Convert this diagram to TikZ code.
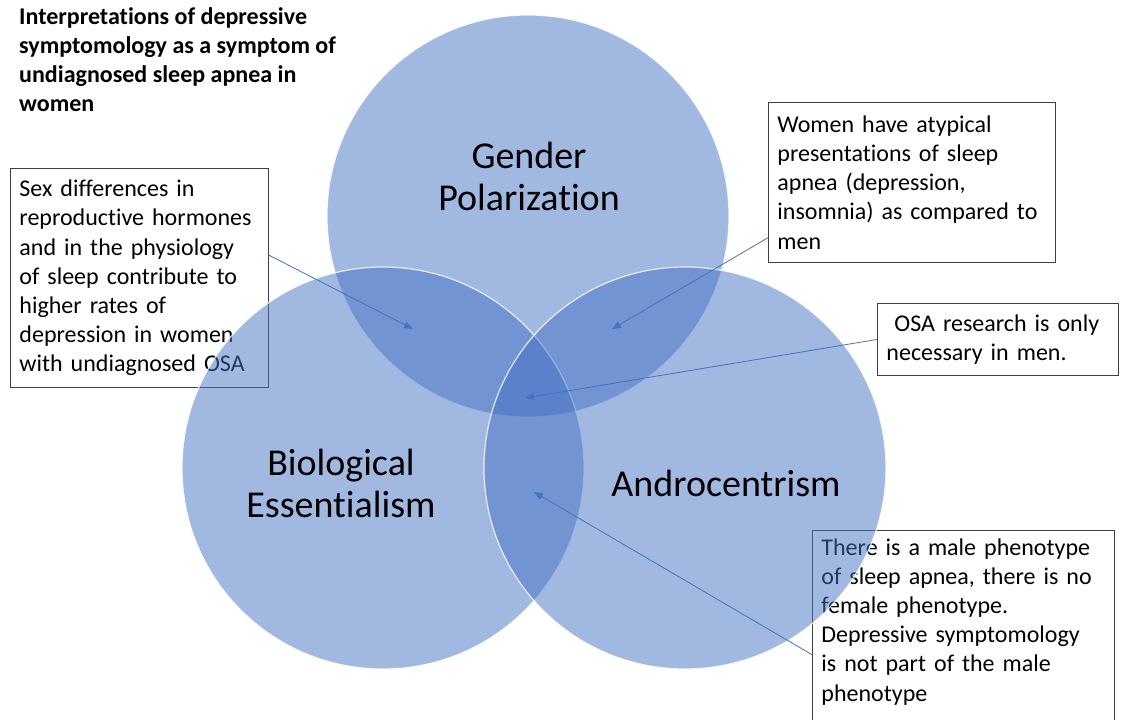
\documentclass[tikz,border=0pt]{standalone}
\usepackage{fontspec}
\setmainfont{Carlito}[RawFeature=-liga]
\usetikzlibrary{arrows.meta}
\definecolor{venn}{HTML}{4472C4}
\definecolor{boxline}{HTML}{404040}
\newcommand{\boxfont}{\fontsize{24}{29.2}\selectfont}
\newcommand{\setfont}{\fontsize{38}{42}\selectfont}
\newcommand{\ttlfont}{\bfseries\fontsize{24}{29}\selectfont}
\begin{document}
\begin{tikzpicture}[x=1pt,y=-1pt,
  every node/.style={inner sep=0pt},
  txtbox/.style={draw=boxline, line width=0.9pt, fill=white, align=left,
    inner xsep=9pt, inner ysep=8pt, font=\boxfont},
  vset/.style={circle, minimum size=402pt, fill=venn, fill opacity=0.5,
    draw=white, draw opacity=0.8, line width=1.2pt},
  setname/.style={align=center, font=\setfont},
  ptr/.style={-{Triangle[length=9pt,width=7pt]}, venn, line width=0.8pt}]
\fill [white] (0,0) rectangle (1122,720);
\useasboundingbox (0,0) rectangle (1122,720);
%
\node [anchor=north west, align=left, font=\ttlfont] (ttl) at (19,7)
  {Interpretations of depressive\\symptomology as a symptom of\\undiagnosed sleep apnea in\\women};
%
\node [txtbox, anchor=north west, text width=240pt, minimum height=219pt] (lbox) at (10,168)
  {Sex differences in\\reproductive hormones\\and in the physiology\\of sleep contribute to\\higher rates of\\depression in women\\with undiagnosed OSA};
\node [txtbox, anchor=north west, text width=269pt, minimum height=160pt] (trbox) at (768,102)
  {Women have atypical\\presentations of sleep\\apnea (depression,\\insomnia) as compared to\\men};
\node [txtbox, anchor=north west, text width=223pt, minimum height=72pt] (osabox) at (877,303)
  {\ OSA research is only\\necessary in men.};
\node [txtbox, anchor=north west, text width=284pt] (brbox) at (812,530)
  {There is a male phenotype\\of sleep apnea, there is no\\female phenotype.\\Depressive symptomology\\is not part of the male\\phenotype\\[30pt]\mbox{}};
%
\node [vset] (gp) at (528,216) {};
\node [vset] (be) at (383,468) {};
\node [vset] (an) at (685,468) {};
%
\node [setname] (gpl) at (529,176) {Gender\\Polarization};
\node [setname] (bel) at (341,483) {Biological\\Essentialism};
\node [setname] (anl) at (726,483) {Androcentrism};
%
\coordinate (t1) at (413,329);
\coordinate (t2) at (612,329);
\coordinate (t3) at (525,398);
\coordinate (t4) at (534,492);
\draw [ptr] (lbox.10) -- (t1);
\draw [ptr] (trbox.201) -- (t2);
\draw [ptr] (osabox.west) -- (t3);
\draw [ptr] (brbox.182) -- (t4);
\end{tikzpicture}
\end{document}
